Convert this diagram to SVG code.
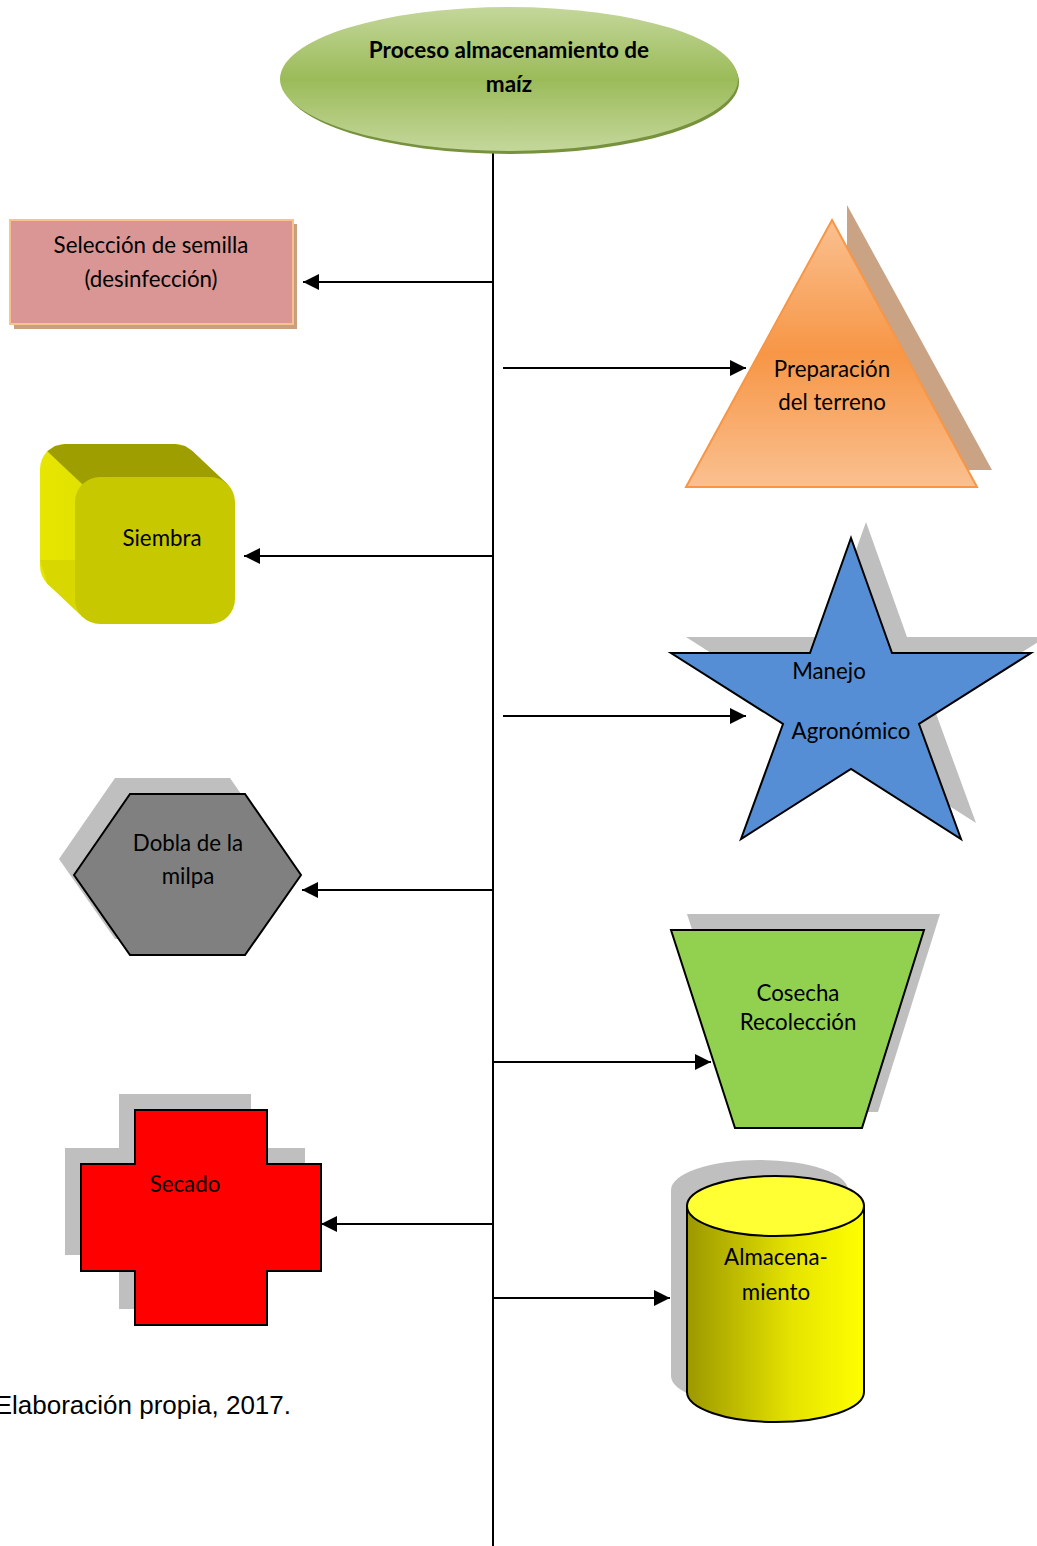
<svg xmlns="http://www.w3.org/2000/svg" width="1037" height="1546" viewBox="0 0 1037 1546">
<style>
.lbl{font-family:Lato,"Open Sans","Liberation Sans",sans-serif;font-size:22.3px;fill:#000;text-anchor:middle}
.ttl{font-family:Lato,"Open Sans","Liberation Sans",sans-serif;font-size:22.5px;font-weight:bold;fill:#000;text-anchor:middle}
.cap{font-family:"Liberation Sans",Arial,sans-serif;font-size:26px;fill:#000;text-anchor:end}
.sh{fill:#bfbfbf}
.edge{stroke:#000;stroke-width:2;fill:none}
</style>
<defs>
<marker id="ah" viewBox="0 0 10 10" refX="10" refY="5" markerWidth="16" markerHeight="16" markerUnits="userSpaceOnUse" orient="auto">
<path d="M0,0 L10,5 L0,10 z" fill="#000"/>
</marker>
<linearGradient id="gEll" x1="0" y1="0" x2="0" y2="1">
<stop offset="0" stop-color="#c4d79b"/>
<stop offset="0.5" stop-color="#9bbb59"/>
<stop offset="1" stop-color="#c4d79b"/>
</linearGradient>
<linearGradient id="gTri" x1="0" y1="0" x2="0" y2="1">
<stop offset="0" stop-color="#fac090"/>
<stop offset="0.5" stop-color="#f79646"/>
<stop offset="1" stop-color="#fac090"/>
</linearGradient>
<linearGradient id="gCyl" x1="0" y1="0" x2="1" y2="0">
<stop offset="0" stop-color="#9c9800"/>
<stop offset="0.6" stop-color="#e6e400"/>
<stop offset="1" stop-color="#ffff00"/>
</linearGradient>
<linearGradient id="gLeft" x1="0" y1="0" x2="1" y2="0">
<stop offset="0" stop-color="#e6e600"/>
<stop offset="1" stop-color="#d6d600"/>
</linearGradient>
</defs>

<g id="connectors">
<line class="edge" x1="493" y1="152" x2="493" y2="1546"/>
<line class="edge" x1="493" y1="282" x2="303" y2="282" marker-end="url(#ah)"/>
<line class="edge" x1="503" y1="368" x2="746" y2="368" marker-end="url(#ah)"/>
<line class="edge" x1="493" y1="556" x2="244" y2="556" marker-end="url(#ah)"/>
<line class="edge" x1="503" y1="716" x2="746" y2="716" marker-end="url(#ah)"/>
<line class="edge" x1="493" y1="890" x2="302" y2="890" marker-end="url(#ah)"/>
<line class="edge" x1="493" y1="1062" x2="711" y2="1062" marker-end="url(#ah)"/>
<line class="edge" x1="493" y1="1224" x2="321" y2="1224" marker-end="url(#ah)"/>
<line class="edge" x1="493" y1="1298" x2="670" y2="1298" marker-end="url(#ah)"/>
</g>

<g id="n-titulo">
<ellipse cx="511" cy="82" rx="228" ry="72" fill="#76923c"/>
<ellipse cx="509" cy="79" rx="229" ry="72" fill="url(#gEll)"/>
<text class="ttl" x="509" y="58">Proceso almacenamiento de</text>
<text class="ttl" x="509" y="92">maíz</text>
</g>

<g id="n-seleccion">
<rect x="14" y="224" width="283" height="105" fill="#c9a07f"/>
<rect x="10" y="220" width="283" height="104" fill="#d99694" stroke="#fac090" stroke-width="2"/>
<text class="lbl" x="151" y="253">Selección de semilla</text>
<text class="lbl" x="151" y="287">(desinfección)</text>
</g>

<g id="n-preparacion">
<polygon points="847,205 992,470 847,470" fill="#c9a384"/>
<polygon points="832,220 977,487 686,487" fill="url(#gTri)" stroke="#f79646" stroke-width="2"/>
<text class="lbl" x="832" y="377">Preparación</text>
<text class="lbl" x="832" y="410">del terreno</text>
</g>

<g id="n-siembra">
<rect x="40" y="444" width="160" height="147" rx="25" fill="url(#gLeft)"/>
<polygon points="40,560 47.3,583.7 82.3,616.7 110,610 110,560" fill="#d8d800"/>
<polygon points="47.3,451.3 55,446 65,444 175,444 185,446 192.7,451.3 227.7,484.3 220,500 90,500 82.3,484.3" fill="#9e9e00"/>
<rect x="75" y="477" width="160" height="147" rx="25" fill="#c8c800"/>
<text class="lbl" x="162" y="546">Siembra</text>
</g>

<g id="n-manejo">
<polygon class="sh" points="866,522 907,637 1046,637 934,708 976,823 866,753 756,823 797,708 686,637 825,637"/>
<polygon points="851,538 892,653 1031,653 919,724 961,839 851,769 741,839 783,724 671,653 810,653" fill="#558ed5" stroke="#000" stroke-width="2"/>
<text class="lbl" x="829" y="679">Manejo</text>
<text class="lbl" x="851" y="739">Agronómico</text>
</g>

<g id="n-dobla">
<polygon class="sh" points="59,859 115,778 230,778 286,859 230,939 115,939"/>
<polygon points="74,875 130,794 245,794 301,875 245,955 130,955" fill="#808080" stroke="#000" stroke-width="2"/>
<text class="lbl" x="188" y="851">Dobla de la</text>
<text class="lbl" x="188" y="884">milpa</text>
</g>

<g id="n-cosecha">
<polygon class="sh" points="687,914 940,914 878,1112 751,1112"/>
<polygon points="671,930 924,930 862,1128 735,1128" fill="#92d050" stroke="#000" stroke-width="2"/>
<text class="lbl" x="798" y="1001">Cosecha</text>
<text class="lbl" x="798" y="1030">Recolección</text>
</g>

<g id="n-secado">
<polygon class="sh" points="119,1094 251,1094 251,1148 305,1148 305,1255 251,1255 251,1309 119,1309 119,1255 65,1255 65,1148 119,1148"/>
<polygon points="135,1110 267,1110 267,1164 321,1164 321,1271 267,1271 267,1325 135,1325 135,1271 81,1271 81,1164 135,1164" fill="#ff0000" stroke="#000" stroke-width="2"/>
<text class="lbl" x="185" y="1192">Secado</text>
</g>

<g id="n-almacenamiento">
<path class="sh" d="M671,1190 A88.5,30 0 0 1 848,1190 L848,1376 A88.5,30 0 0 1 671,1376 Z"/>
<path d="M687,1206 L687,1392 A88.5,30 0 0 0 864,1392 L864,1206 Z" fill="url(#gCyl)" stroke="#000" stroke-width="2"/>
<ellipse cx="775.5" cy="1206" rx="88.5" ry="30" fill="#ffff33" stroke="#000" stroke-width="2"/>
<text class="lbl" x="776" y="1265">Almacena-</text>
<text class="lbl" x="776" y="1300">miento</text>
</g>

<text class="cap" x="291" y="1414">Elaboración propia, 2017.</text>
</svg>
